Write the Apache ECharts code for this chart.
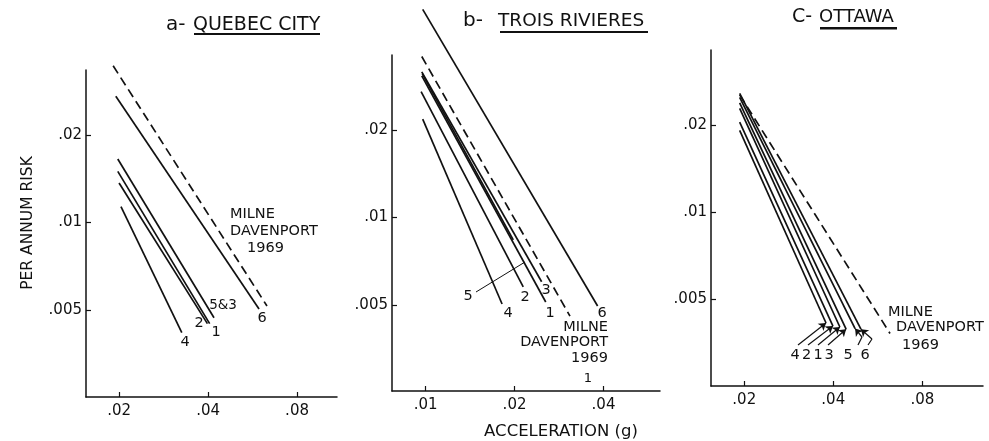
<!DOCTYPE html>
<html>
<head>
<meta charset="utf-8">
<script src="https://cdn.jsdelivr.net/npm/echarts@6/dist/echarts.min.js"></script>
<style>
  html, body { margin: 0; padding: 0; background: #fff; }
  #chart { width: 989px; height: 441px; }
</style>
</head>
<body>
<div id="chart"></div>
<script>
// tick labels (log-log axes)
const xTicksQuebec = [0.02, 0.04, 0.08]
const xTicksTrois = [0.01, 0.02, 0.04]
const xTicksOttawa = [0.02, 0.04, 0.08]
const yTicks = [0.005, 0.01, 0.02]

// each curve: [[acceleration, risk] at start, [acceleration, risk] at end]
// a - Quebec City
const qcMilne = [[0.0191, 0.0346], [0.0633, 0.00516]]
const qc6 = [[0.0195, 0.0272], [0.0595, 0.00504]]
const qc5and3 = [[0.0198, 0.01654], [0.0419, 0.00470]]
const qc1 = [[0.0198, 0.0150], [0.0405, 0.00449]]
const qc2 = [[0.0200, 0.01368], [0.0398, 0.00449]]
const qc4 = [[0.0203, 0.01133], [0.0326, 0.00418]]

// b - Trois Rivieres
const trMilne = [[0.00971, 0.0358], [0.0308, 0.00458]]
const tr6 = [[0.00978, 0.0520], [0.0382, 0.00496]]
const tr3 = [[0.00971, 0.0317], [0.0247, 0.00601]]
const tr1 = [[0.00971, 0.0307], [0.0255, 0.00512]]
const tr5 = [[0.00975, 0.0312], [0.0198, 0.00837]]
const tr2 = [[0.00966, 0.0271], [0.0214, 0.00577]]
const tr4 = [[0.00978, 0.0218], [0.01815, 0.00504]]

// c - Ottawa
const otMilne = [[0.0193, 0.0255], [0.0622, 0.00381]]
const ot6 = [[0.0193, 0.0258], [0.0496, 0.00394]]
const ot5 = [[0.0193, 0.0250], [0.0474, 0.00396]]
const ot3 = [[0.0193, 0.0239], [0.0442, 0.00394]]
const ot1 = [[0.0193, 0.0229], [0.0421, 0.00401]]
const ot2 = [[0.0193, 0.0205], [0.0399, 0.00404]]
const ot4 = [[0.0193, 0.0192], [0.0378, 0.00414]]

const INK = '#111'
const FONT = 'DejaVu Sans'

const fmt = v => (+(+v).toFixed(3)).toString().replace(/^0\./, '.')

const makeX = (gridIndex, min, max, ticks) => ({
  type: 'log',
  gridIndex,
  min,
  max,
  axisLine: { show: true, onZero: false, lineStyle: { color: INK, width: 1.5 } },
  axisTick: { show: true, inside: true, length: 5, customValues: ticks, lineStyle: { color: INK, width: 1.2 } },
  axisLabel: { customValues: ticks, formatter: fmt, color: INK, fontSize: 15, fontFamily: FONT, margin: 7 },
  splitLine: { show: false },
  minorTick: { show: false }
})

const makeY = (gridIndex, min, max) => ({
  type: 'log',
  gridIndex,
  min,
  max,
  axisLine: { show: true, onZero: false, lineStyle: { color: INK, width: 1.5 } },
  axisTick: { show: true, inside: true, length: 5, customValues: yTicks, lineStyle: { color: INK, width: 1.2 } },
  axisLabel: { customValues: yTicks, formatter: fmt, color: INK, fontSize: 15, fontFamily: FONT, margin: 4 },
  splitLine: { show: false },
  minorTick: { show: false }
})

const seg = (name, data, idx, dashed, markLine) => ({
  type: 'line',
  name,
  xAxisIndex: idx,
  yAxisIndex: idx,
  data,
  symbol: 'none',
  clip: false,
  silent: true,
  lineStyle: { color: INK, width: 1.7, type: dashed ? [9, 5] : 'solid' },
  markLine
})

// arrows from the Ottawa labels to the ends of the curves
const arrow = (tail, tip, bend) => {
  const items = []
  if (bend) {
    items.push([{ x: tail[0], y: tail[1], symbol: 'none' }, { x: bend[0], y: bend[1], symbol: 'none' }])
    items.push([{ x: bend[0], y: bend[1], symbol: 'none' }, { coord: tip, symbol: 'arrow' }])
  } else {
    items.push([{ x: tail[0], y: tail[1], symbol: 'none' }, { coord: tip, symbol: 'arrow' }])
  }
  return {
    silent: true,
    animation: false,
    symbolSize: 7,
    label: { show: false },
    lineStyle: { color: INK, width: 1.2, type: 'solid' },
    data: items
  }
}

const txt = (x, y, text, opts = {}) => ({
  type: 'text',
  x,
  y,
  rotation: opts.rotation || 0,
  style: {
    text,
    fill: INK,
    font: `${opts.weight || 'normal'} ${opts.size || 14.5}px "${FONT}"`,
    textAlign: opts.align || 'center',
    textVerticalAlign: 'middle'
  }
})

const bar = (x1, x2, y, h) => ({
  type: 'rect',
  shape: { x: x1, y, width: x2 - x1, height: h },
  style: { fill: INK }
})

const chart = echarts.init(document.getElementById('chart'))

chart.setOption({
  animation: false,
  backgroundColor: '#fff',
  grid: [
    { left: 86, top: 70, width: 251, height: 327, outerBoundsMode: 'none' },
    { left: 392, top: 55, width: 268, height: 336, outerBoundsMode: 'none' },
    { left: 711, top: 50, width: 272, height: 336, outerBoundsMode: 'none' }
  ],
  xAxis: [
    makeX(0, 0.01546, 0.1092, xTicksQuebec),
    makeX(1, 0.0077, 0.0621, xTicksTrois),
    makeX(2, 0.01544, 0.1283, xTicksOttawa)
  ],
  yAxis: [
    makeY(0, 0.00251, 0.03347),
    makeY(1, 0.00253, 0.03623),
    makeY(2, 0.002506, 0.03645)
  ],
  series: [
    seg('Milne Davenport 1969', qcMilne, 0, true),
    seg('6', qc6, 0),
    seg('5&3', qc5and3, 0),
    seg('1', qc1, 0),
    seg('2', qc2, 0),
    seg('4', qc4, 0),

    seg('Milne Davenport 1969', trMilne, 1, true),
    seg('6', tr6, 1),
    seg('3', tr3, 1),
    seg('1', tr1, 1),
    seg('5', tr5, 1),
    seg('2', tr2, 1),
    seg('4', tr4, 1),

    seg('Milne Davenport 1969', otMilne, 2, true),
    seg('6', ot6, 2, false, arrow([868, 345], ot6[1], [872, 339])),
    seg('5', ot5, 2, false, arrow([858, 345], ot5[1], [862, 337])),
    seg('3', ot3, 2, false, arrow([828, 345], ot3[1])),
    seg('1', ot1, 2, false, arrow([818, 345], ot1[1])),
    seg('2', ot2, 2, false, arrow([808, 345], ot2[1])),
    seg('4', ot4, 2, false, arrow([798, 345], ot4[1]))
  ],
  graphic: [
    // titles
    txt(166, 25, 'a-', { size: 20, align: 'left' }),
    txt(193, 25, 'QUEBEC CITY', { size: 19, align: 'left' }),
    bar(194, 320, 33, 2),
    txt(463, 21, 'b-', { size: 20, align: 'left' }),
    txt(498, 21, 'TROIS RIVIERES', { size: 18.5, align: 'left' }),
    bar(500, 648, 31, 2),
    txt(792, 17, 'C-', { size: 19, align: 'left' }),
    txt(819, 17, 'OTTAWA', { size: 18, align: 'left' }),
    bar(820, 897, 27, 2.5),

    // axis names
    txt(28, 223, 'PER ANNUM RISK', { size: 15.5, rotation: Math.PI / 2 }),
    txt(561, 432, 'ACCELERATION (g)', { size: 16.5 }),

    // a - labels
    txt(230, 214, 'MILNE', { align: 'left' }),
    txt(230, 231, 'DAVENPORT', { align: 'left' }),
    txt(247, 248, '1969', { align: 'left' }),
    txt(223, 305, '5&3', { size: 13.5 }),
    txt(199, 323, '2'),
    txt(216, 332, '1'),
    txt(185, 342, '4'),
    txt(262, 318, '6'),

    // b - labels
    txt(608, 327, 'MILNE', { align: 'right' }),
    txt(608, 342, 'DAVENPORT', { align: 'right' }),
    txt(608, 358, '1969', { align: 'right' }),
    txt(468, 296, '5'),
    txt(508, 313, '4'),
    txt(525, 297, '2'),
    txt(550, 313, '1'),
    txt(546, 290, '3'),
    txt(602, 313, '6'),
    txt(588, 379, '1', { size: 13 }),
    { type: 'line', shape: { x1: 476, y1: 292, x2: 525, y2: 262 }, style: { stroke: INK, lineWidth: 1 } },

    // c - labels
    txt(888, 312, 'MILNE', { align: 'left' }),
    txt(896, 327, 'DAVENPORT', { align: 'left' }),
    txt(902, 345, '1969', { align: 'left' }),
    txt(795, 355, '4'),
    txt(806.5, 355, '2'),
    txt(818, 355, '1'),
    txt(829, 355, '3'),
    txt(848, 355, '5'),
    txt(865, 355, '6')
  ]
})
</script>
</body>
</html>
